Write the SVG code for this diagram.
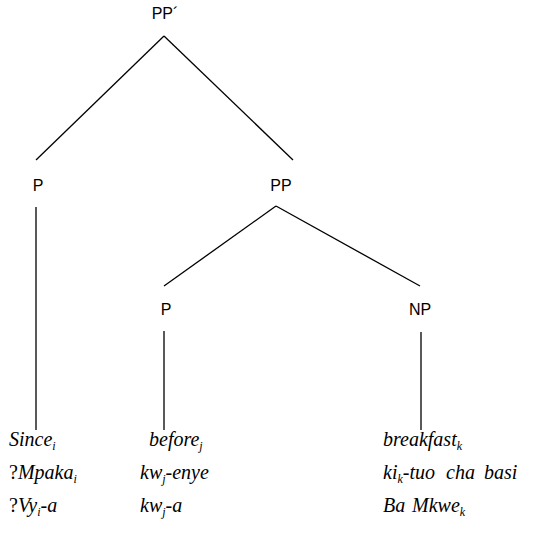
<svg xmlns="http://www.w3.org/2000/svg" width="553" height="534" viewBox="0 0 553 534">
  <style>
    .cat { font-family: "Liberation Sans", Arial, sans-serif; font-size: 16px; fill: #000; text-anchor: middle; }
    .ex { font-family: "Liberation Serif", "Times New Roman", serif; font-size: 20px; font-style: italic; fill: #000; }
    .up { font-style: normal; }
    .sub { font-size: 12px; }
    .edge { stroke: #000; stroke-width: 1.3; fill: none; }
  </style>
  <rect width="553" height="534" fill="#fff"/>

  <!-- tree branches -->
  <g id="connectors">
    <path class="edge" d="M164 36 L36 160"/>
    <path class="edge" d="M164 36 L293 160"/>
    <path class="edge" d="M36 207 L36 430"/>
    <path class="edge" d="M276 206 L164 286"/>
    <path class="edge" d="M276 206 L420 286"/>
    <path class="edge" d="M164 331 L164 430"/>
    <path class="edge" d="M421 332 L421 430"/>
  </g>

  <!-- category labels -->
  <g id="node-ppbar"><text class="cat" x="165" y="19">PP´</text></g>
  <g id="node-p1"><text class="cat" x="38" y="191">P</text></g>
  <g id="node-pp"><text class="cat" x="281" y="191">PP</text></g>
  <g id="node-p2"><text class="cat" x="166" y="315">P</text></g>
  <g id="node-np"><text class="cat" x="420" y="315">NP</text></g>

  <!-- lexical items under P -->
  <g id="words-p1">
    <text class="ex" x="9" y="446">Since<tspan class="sub" dy="4">i</tspan></text>
    <text class="ex" x="9" y="479"><tspan class="up">?</tspan>Mpaka<tspan class="sub" dy="4">i</tspan></text>
    <text class="ex" x="9" y="512"><tspan class="up">?</tspan>Vy<tspan class="sub" dy="4">i</tspan><tspan dy="-4">-a</tspan></text>
  </g>

  <!-- lexical items under the lower P -->
  <g id="words-p2">
    <text class="ex" x="149" y="446">before<tspan class="sub" dy="4">j</tspan></text>
    <text class="ex" x="140" y="479">kw<tspan class="sub" dy="4">j</tspan><tspan dy="-4">-enye</tspan></text>
    <text class="ex" x="140" y="512">kw<tspan class="sub" dy="4">j</tspan><tspan dy="-4">-a</tspan></text>
  </g>

  <!-- lexical items under NP -->
  <g id="words-np">
    <text class="ex" x="383" y="446">breakfast<tspan class="sub" dy="4">k</tspan></text>
    <text class="ex" x="383" y="479">ki<tspan class="sub" dy="4">k</tspan><tspan dy="-4">-tuo</tspan><tspan x="446">cha</tspan><tspan x="484">basi</tspan></text>
    <text class="ex" x="383" y="512">Ba<tspan x="412">Mkwe</tspan><tspan class="sub" dy="4">k</tspan></text>
  </g>
</svg>
